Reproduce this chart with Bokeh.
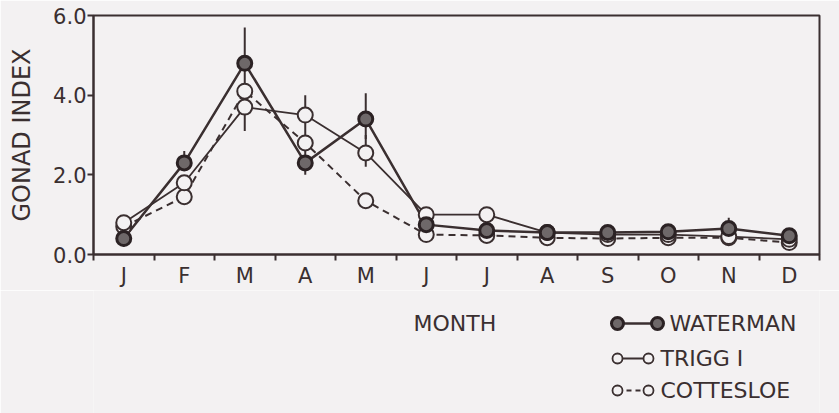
from bokeh.plotting import figure
from bokeh.models import FixedTicker, Range1d, ColumnDataSource, PrintfTickFormatter, Label
from bokeh.layouts import column
from bokeh.embed import file_html
from bokeh.resources import INLINE

# ---- data ----
months = ["J", "F", "M", "A", "M", "J", "J", "A", "S", "O", "N", "D"]
waterman = [0.4, 2.3, 4.8, 2.3, 3.4, 0.75, 0.6, 0.55, 0.55, 0.57, 0.65, 0.47]
trigg = [0.8, 1.8, 3.7, 3.5, 2.55, 1.0, 1.0, 0.55, 0.5, 0.5, 0.45, 0.38]
cottesloe = [0.7, 1.45, 4.1, 2.8, 1.35, 0.5, 0.48, 0.42, 0.4, 0.42, 0.42, 0.3]
waterman_lo = [0.2, 2.3, 3.9, 2.0, 2.9, 0.75, 0.6, 0.55, 0.55, 0.57, 0.65, 0.47]
waterman_hi = [0.4, 2.6, 5.7, 2.6, 4.05, 0.75, 0.6, 0.55, 0.55, 0.57, 0.92, 0.47]
trigg_lo = [0.8, 1.8, 3.1, 3.0, 2.2, 1.0, 1.0, 0.55, 0.5, 0.5, 0.45, 0.38]
trigg_hi = [0.8, 1.8, 3.7, 4.0, 3.0, 1.0, 1.0, 0.55, 0.5, 0.5, 0.45, 0.38]
y_ticks = [0, 2, 4, 6]
series_names = ["WATERMAN", "TRIGG I", "COTTESLOE"]

INK = "#3a2f30"
BG = "#f3f1f2"
FONT = "DejaVu Sans"
x = list(range(len(months)))

LEFT, RIGHT = 93, 20
p = figure(width=839, height=290, x_range=Range1d(-0.5, 11.5), y_range=Range1d(0, 6),
           output_backend="svg", toolbar_location=None,
           min_border_left=LEFT, min_border_right=RIGHT, min_border_top=15, min_border_bottom=35)
p.background_fill_color = BG
p.border_fill_color = BG
p.outline_line_color = INK
p.outline_line_width = 2
p.xgrid.visible = False
p.ygrid.visible = False

# y axis
p.yaxis.ticker = FixedTicker(ticks=y_ticks)
p.yaxis.formatter = PrintfTickFormatter(format="%.1f")
p.yaxis.major_tick_out = 6
p.yaxis.major_tick_in = 0
p.yaxis.minor_tick_line_color = None
p.yaxis.axis_line_color = INK
p.yaxis.axis_line_width = 2
p.yaxis.major_tick_line_color = INK
p.yaxis.major_tick_line_width = 2
p.yaxis.major_label_text_font = FONT
p.yaxis.major_label_text_font_size = "21px"
p.yaxis.major_label_text_color = INK
p.yaxis.major_label_standoff = 1
p.yaxis.axis_label = "GONAD INDEX"
p.yaxis.axis_label_text_font = FONT
p.yaxis.axis_label_text_font_size = "24px"
p.yaxis.axis_label_text_font_style = "normal"
p.yaxis.axis_label_text_color = INK
p.yaxis.axis_label_standoff = 14

# x axis
p.xaxis.ticker = FixedTicker(ticks=x, minor_ticks=[i - 0.5 for i in range(len(months) + 1)])
p.xaxis.major_label_overrides = {i: m for i, m in enumerate(months)}
p.xaxis.major_tick_line_color = None
p.xaxis.major_tick_out = 6
p.xaxis.major_tick_in = 0
p.xaxis.minor_tick_out = 6
p.xaxis.minor_tick_in = 0
p.xaxis.minor_tick_line_color = INK
p.xaxis.minor_tick_line_width = 2
p.xaxis.axis_line_color = INK
p.xaxis.axis_line_width = 2
p.xaxis.major_label_text_font = FONT
p.xaxis.major_label_text_font_size = "21px"
p.xaxis.major_label_text_color = INK
p.xaxis.major_label_standoff = 3

# lines
p.line(x, cottesloe, line_color=INK, line_width=2, line_dash="7 5")
p.line(x, trigg, line_color=INK, line_width=1.8)
p.line(x, waterman, line_color=INK, line_width=2.5)

# error bars
def bars(lo, hi):
    xs = [i for i in x if hi[i] > lo[i]]
    return ColumnDataSource(dict(x=xs, lo=[lo[i] for i in xs], hi=[hi[i] for i in xs]))

p.segment(x0="x", y0="lo", x1="x", y1="hi", source=bars(waterman_lo, waterman_hi),
          line_color=INK, line_width=2)
p.segment(x0="x", y0="lo", x1="x", y1="hi", source=bars(trigg_lo, trigg_hi),
          line_color=INK, line_width=2)

# markers
p.scatter(x, cottesloe, size=15, marker="circle", fill_color=BG, line_color=INK, line_width=2)
p.scatter(x, trigg, size=15, marker="circle", fill_color=BG, line_color=INK, line_width=2)
p.scatter(x, waterman, size=14, marker="circle", fill_color="#6e6869", line_color="#2b2224", line_width=3)

# ---- bottom panel: x-axis title and legend (coordinates = page pixels) ----
H2 = 123
q = figure(width=839, height=H2, x_range=Range1d(LEFT, 839 - RIGHT), y_range=Range1d(H2, 0),
           output_backend="svg", toolbar_location=None,
           min_border_left=LEFT, min_border_right=RIGHT, min_border_top=0, min_border_bottom=0)
q.axis.visible = False
q.xgrid.visible = False
q.ygrid.visible = False
q.outline_line_color = None
q.background_fill_color = BG
q.border_fill_color = BG

rows_y = [33, 68, 100]
q.add_layout(Label(x=413, y=rows_y[0], text="MONTH", text_font=FONT, text_font_size="22px",
                   text_color=INK, text_baseline="middle", text_align="left"))

# WATERMAN sample
q.line([617, 657], [rows_y[0]] * 2, line_color=INK, line_width=2.5)
q.scatter([617, 657], [rows_y[0]] * 2, size=12, fill_color="#6e6869", line_color="#2b2224", line_width=3)
# TRIGG I sample
q.line([617, 648], [rows_y[1]] * 2, line_color=INK, line_width=1.8)
q.scatter([617, 648], [rows_y[1]] * 2, size=10, fill_color=BG, line_color=INK, line_width=1.8)
# COTTESLOE sample
q.line([617, 648], [rows_y[2]] * 2, line_color=INK, line_width=1.8, line_dash="5 4")
q.scatter([617, 648], [rows_y[2]] * 2, size=10, fill_color=BG, line_color=INK, line_width=1.8)

for name, xx, yy in zip(series_names, [669, 660, 660], rows_y):
    q.add_layout(Label(x=xx, y=yy, text=name, text_font=FONT, text_font_size="22px",
                       text_color=INK, text_baseline="middle", text_align="left"))

layout = column(p, q, spacing=0)
open("out.html", "w").write(file_html(layout, INLINE))
